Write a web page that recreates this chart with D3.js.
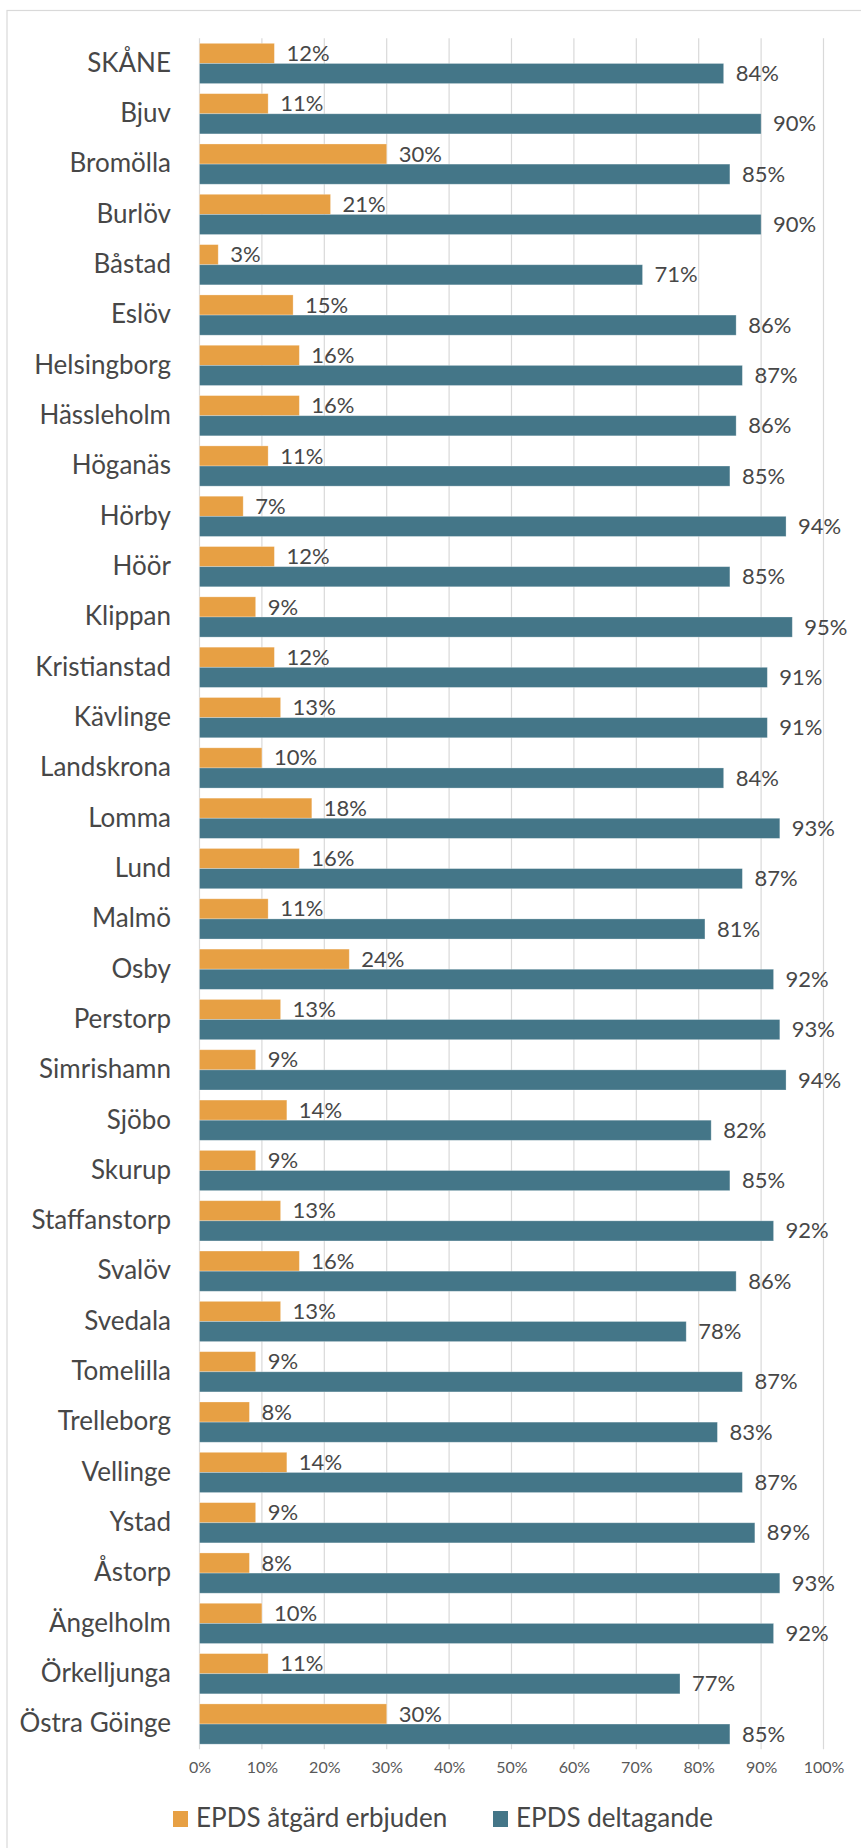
<!DOCTYPE html>
<html>
<head>
<meta charset="utf-8">
<script src="https://cdn.jsdelivr.net/npm/d3@7"></script>
<style>
  html, body { margin: 0; padding: 0; background: #fff; }
  svg { display: block; }
</style>
</head>
<body>
<svg id="chart" width="861" height="1848"></svg>
<script>
// Kommuner i Skåne
const categories = [
  "SKÅNE", "Bjuv", "Bromölla", "Burlöv", "Båstad", "Eslöv", "Helsingborg",
  "Hässleholm", "Höganäs", "Hörby", "Höör", "Klippan", "Kristianstad",
  "Kävlinge", "Landskrona", "Lomma", "Lund", "Malmö", "Osby", "Perstorp",
  "Simrishamn", "Sjöbo", "Skurup", "Staffanstorp", "Svalöv", "Svedala",
  "Tomelilla", "Trelleborg", "Vellinge", "Ystad", "Åstorp", "Ängelholm",
  "Örkelljunga", "Östra Göinge"
];

// Andel (%) som erbjudits åtgärd efter EPDS
const atgardErbjuden = [
  12, 11, 30, 21, 3, 15, 16, 16, 11, 7, 12, 9, 12, 13, 10, 18, 16, 11, 24,
  13, 9, 14, 9, 13, 16, 13, 9, 8, 14, 9, 8, 10, 11, 30
];

// Andel (%) som deltagit i EPDS
const deltagande = [
  84, 90, 85, 90, 71, 86, 87, 86, 85, 94, 85, 95, 91, 91, 84, 93, 87, 81, 92,
  93, 94, 82, 85, 92, 86, 78, 87, 83, 87, 89, 93, 92, 77, 85
];

const seriesNames = ["EPDS åtgärd erbjuden", "EPDS deltagande"];
const seriesColors = ["#E7A044", "#447688"];
const tickValues = [0, 10, 20, 30, 40, 50, 60, 70, 80, 90, 100];

const svg = d3.select("#chart");
const FONT = "Lato, 'Open Sans', sans-serif";
const TEXT = "#474747";

// Ram runt diagramytan
svg.append("rect")
  .attr("x", 7).attr("y", 10.5)
  .attr("width", 900).attr("height", 1900)
  .attr("fill", "none")
  .attr("stroke", "#d9d9d9")
  .attr("stroke-width", 1.2);

const plot = { left: 199.5, right: 823.5, top: 38.3, bottom: 1749.2 };

const x = d3.scaleLinear().domain([0, 100]).range([plot.left, plot.right]);
const y = d3.scaleBand().domain(categories).range([plot.top, plot.bottom])
  .paddingInner(0.2).paddingOuter(0.1);
const sub = d3.scaleBand().domain([0, 1]).range([0, y.bandwidth()]);

// Stödlinjer
svg.append("g").selectAll("line")
  .data(tickValues)
  .join("line")
  .attr("x1", d => x(d)).attr("x2", d => x(d))
  .attr("y1", plot.top).attr("y2", plot.bottom)
  .attr("stroke", "#d9d9d9")
  .attr("stroke-width", 1.2);

// x-axel med procentetiketter
const xAxis = d3.axisBottom(x)
  .tickValues(tickValues)
  .tickFormat(d => d + "%")
  .tickSize(0)
  .tickPadding(0);

const ax = svg.append("g")
  .attr("transform", `translate(0,${plot.bottom + 16})`)
  .call(xAxis);
ax.select(".domain").remove();
ax.selectAll("text")
  .attr("font-family", FONT)
  .attr("font-size", 16)
  .attr("fill", "#595959")
  .attr("dy", "0.5em");

// Kategorietiketter
const yAxis = d3.axisLeft(y).tickSize(0).tickPadding(0);
const ay = svg.append("g")
  .attr("transform", `translate(${plot.left - 28.5},0)`)
  .call(yAxis);
ay.select(".domain").remove();
ay.selectAll("text")
  .attr("font-family", FONT)
  .attr("font-size", 26)
  .attr("fill", TEXT);

const series = [atgardErbjuden, deltagande];

series.forEach((vals, si) => {
  const g = svg.append("g");
  g.selectAll("rect")
    .data(vals)
    .join("rect")
    .attr("x", x(0))
    .attr("y", (d, i) => y(categories[i]) + sub(si))
    .attr("width", d => x(d) - x(0))
    .attr("height", sub.bandwidth())
    .attr("fill", seriesColors[si])
    .attr("stroke", "#ffffff")
    .attr("stroke-opacity", 0.35)
    .attr("stroke-width", 0.8);

  g.selectAll("text")
    .data(vals)
    .join("text")
    .attr("x", d => x(d) + 12)
    .attr("y", (d, i) => y(categories[i]) + sub(si) + sub.bandwidth() / 2 + 2)
    .attr("dominant-baseline", "middle")
    .attr("font-family", FONT)
    .attr("font-size", 22)
    .attr("fill", TEXT)
    .text(d => d + "%");
});

// Teckenförklaring
const legendItems = [
  { name: seriesNames[0], color: seriesColors[0], x: 173 },
  { name: seriesNames[1], color: seriesColors[1], x: 493 }
];
const lg = svg.append("g").selectAll("g")
  .data(legendItems)
  .join("g")
  .attr("transform", d => `translate(${d.x},1819)`);
lg.append("rect")
  .attr("x", 0).attr("y", -8)
  .attr("width", 15).attr("height", 16)
  .attr("fill", d => d.color);
lg.append("text")
  .attr("x", 23)
  .attr("y", 1)
  .attr("dominant-baseline", "middle")
  .attr("font-family", FONT)
  .attr("font-size", 26)
  .attr("fill", TEXT)
  .text(d => d.name);
</script>
</body>
</html>
